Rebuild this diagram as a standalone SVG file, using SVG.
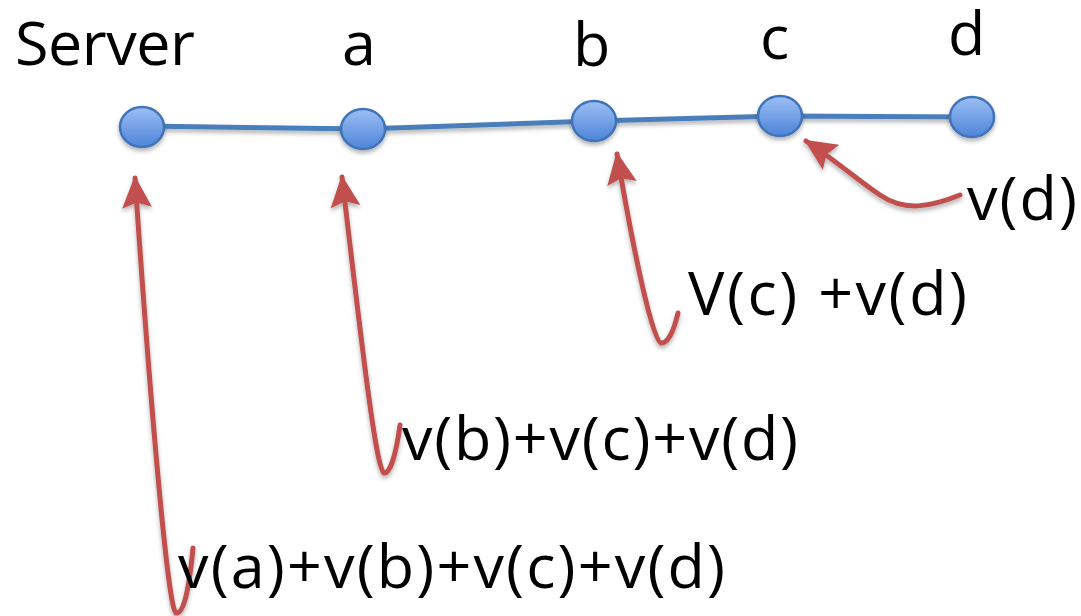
<svg xmlns="http://www.w3.org/2000/svg" width="1081" height="616" viewBox="0 0 1081 616">
<defs>
<linearGradient id="ng" x1="0" y1="0" x2="0" y2="1">
<stop offset="0" stop-color="#9dbff5"/>
<stop offset="1" stop-color="#4d84d8"/>
</linearGradient>
<filter id="sh" x="-20%" y="-20%" width="140%" height="150%">
<feDropShadow dx="0" dy="3" stdDeviation="2" flood-color="#000" flood-opacity="0.3"/>
</filter>
<marker id="ah" viewBox="0 0 30 30" markerUnits="userSpaceOnUse" markerWidth="32" markerHeight="32" refX="28" refY="15" orient="auto">
<path d="M0,1 L30,15 L0,29 L5,15 z" fill="#c0504d"/>
</marker>
<style>
.lbl{font-family:"Open Sans","Noto Sans","DejaVu Sans",sans-serif;font-size:61px;fill:#000}
.node ellipse{fill:url(#ng);stroke:#3f73b8;stroke-width:2.5}
.edge{fill:none;stroke:#4a7ebb;stroke-width:5}
.flow{fill:none;stroke:#c0504d;stroke-width:5;stroke-linecap:round;marker-end:url(#ah)}
</style>
</defs>
<g id="connectors" filter="url(#sh)">
<polyline class="edge" points="142,126 363,129 594,121 780,116 972,117"/>
<path class="flow" d="M193,548 C188,600 182,614 176,613 C168,611 150,400 135,178"/>
<path class="flow" d="M400,425 C396,455 390,474 384,473 C376,471 360,330 342,177"/>
<path class="flow" d="M678,313 C674,330 668,344 661,343 C653,341 635,260 617,154"/>
<path class="flow" d="M960,195 C930,207 905,212 880,195 C860,182 835,160 806,141"/>
</g>
<g id="node-server" class="node" filter="url(#sh)"><ellipse cx="142" cy="127" rx="22" ry="20"/></g>
<g id="node-a" class="node" filter="url(#sh)"><ellipse cx="363" cy="129" rx="22" ry="20"/></g>
<g id="node-b" class="node" filter="url(#sh)"><ellipse cx="594" cy="121" rx="22" ry="20"/></g>
<g id="node-c" class="node" filter="url(#sh)"><ellipse cx="780" cy="116" rx="22" ry="20"/></g>
<g id="node-d" class="node" filter="url(#sh)"><ellipse cx="972" cy="117" rx="22" ry="20"/></g>
<g id="labels">
<text class="lbl" x="15" y="65" textLength="180">Server</text>
<text class="lbl" x="342" y="65">a</text>
<text class="lbl" x="573" y="66">b</text>
<text class="lbl" x="760" y="59">c</text>
<text class="lbl" x="948" y="55">d</text>
<text class="lbl" x="967" y="220" textLength="110">v(d)</text>
<text class="lbl" x="688" y="315" textLength="279">V(c) +v(d)</text>
<text class="lbl" x="402" y="460" textLength="396">v(b)+v(c)+v(d)</text>
<text class="lbl" x="178" y="588" textLength="547">v(a)+v(b)+v(c)+v(d)</text>
</g>
</svg>
